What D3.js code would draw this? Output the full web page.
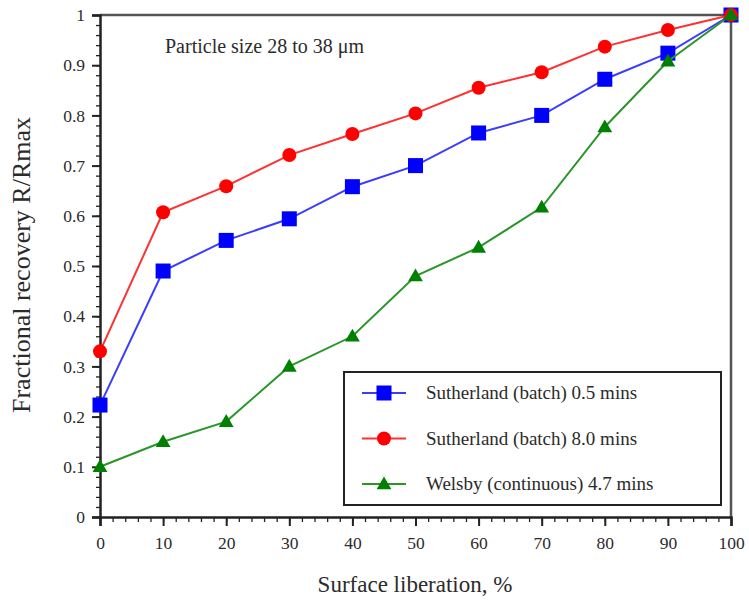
<!DOCTYPE html>
<html>
<head>
<meta charset="utf-8">
<script src="https://cdn.jsdelivr.net/npm/d3@7"></script>
<style>
  body { margin: 0; background: #fff; }
  svg { display: block; font-family: "Liberation Serif", "Times New Roman", serif; }
</style>
</head>
<body>
<svg></svg>
<script>
// Data

let liberation = [0, 10, 20, 30, 40, 50, 60, 70, 80, 90, 100]
let batch05 = [0.223, 0.49, 0.551, 0.594, 0.658, 0.70, 0.765, 0.80, 0.872, 0.924, 1.0]
let batch80 = [0.33, 0.607, 0.659, 0.721, 0.763, 0.804, 0.855, 0.886, 0.937, 0.97, 1.0]
let welsby = [0.10, 0.15, 0.19, 0.30, 0.36, 0.48, 0.537, 0.617, 0.777, 0.908, 1.0]

let seriesNames = ['Sutherland (batch) 0.5 mins', 'Sutherland (batch) 8.0 mins', 'Welsby (continuous) 4.7 mins']
let xTicks = [0, 10, 20, 30, 40, 50, 60, 70, 80, 90, 100]
let yTicks = [0, 0.1, 0.2, 0.3, 0.4, 0.5, 0.6, 0.7, 0.8, 0.9, 1]

let series = [
    { name: seriesNames[0], values: batch05, color: '#0000ff', line: '#3c3cff', shape: 'square' },
    { name: seriesNames[1], values: batch80, color: '#ff0000', line: '#ff3030', shape: 'circle' },
    { name: seriesNames[2], values: welsby, color: '#008000', line: '#2a962a', shape: 'triangle' }
]

let width = 749
let height = 603
let textColor = '#2b2b2b'

let svg = d3.select('svg')
    .attr('width', width)
    .attr('height', height)

// Scales

let xScale = d3.scaleLinear().domain([0, 100]).range([100, 731])
let yScale = d3.scaleLinear().domain([0, 1]).range([517, 15])

// Frame (top and right)

svg.append('line')
    .attr('x1', xScale(0)).attr('x2', xScale(100))
    .attr('y1', yScale(1)).attr('y2', yScale(1))
    .attr('stroke', '#555').attr('stroke-width', 2.5)
svg.append('line')
    .attr('x1', xScale(100)).attr('x2', xScale(100))
    .attr('y1', yScale(1)).attr('y2', yScale(0))
    .attr('stroke', '#555').attr('stroke-width', 2.5)

// Axes

let drawAxes = () => {
    let xMinor = d3.range(0, 101, 2)
    let yMinor = d3.range(0, 1.0001, 0.02)

    svg.append('g')
        .attr('transform', 'translate(0,' + yScale(0) + ')')
        .call(d3.axisBottom(xScale).tickValues(xMinor).tickSize(5).tickFormat(''))
        .call(g => g.select('.domain').remove())
        .selectAll('line').attr('stroke', '#222').attr('stroke-width', 1.3)

    svg.append('g')
        .attr('transform', 'translate(0,' + yScale(0) + ')')
        .call(d3.axisBottom(xScale).tickValues(xTicks).tickSize(9).tickPadding(11).tickFormat(d3.format('d')))
        .call(g => g.select('.domain').attr('stroke', '#222').attr('stroke-width', 2.5))
        .call(g => g.selectAll('line').attr('stroke', '#222').attr('stroke-width', 2))
        .call(g => g.selectAll('text').attr('fill', textColor).attr('font-size', 17.5).attr('font-family', 'Liberation Serif'))

    svg.append('g')
        .attr('transform', 'translate(' + xScale(0) + ',0)')
        .call(d3.axisLeft(yScale).tickValues(yMinor).tickSize(4).tickFormat(''))
        .call(g => g.select('.domain').remove())
        .selectAll('line').attr('stroke', '#222').attr('stroke-width', 1.3)

    svg.append('g')
        .attr('transform', 'translate(' + xScale(0) + ',0)')
        .call(d3.axisLeft(yScale).tickValues(yTicks).tickSize(8).tickPadding(7).tickFormat(d => d3.format('')(+d.toFixed(1))))
        .call(g => g.select('.domain').attr('stroke', '#222').attr('stroke-width', 2.5))
        .call(g => g.selectAll('line').attr('stroke', '#222').attr('stroke-width', 2))
        .call(g => g.selectAll('text').attr('fill', textColor).attr('font-size', 17.5).attr('font-family', 'Liberation Serif'))
}

drawAxes()

// Titles

svg.append('text')
    .attr('x', 415).attr('y', 592)
    .attr('text-anchor', 'middle')
    .attr('font-size', 23)
    .attr('fill', textColor)
    .text('Surface liberation, %')

svg.append('text')
    .attr('transform', 'translate(30,265) rotate(-90)')
    .attr('text-anchor', 'middle')
    .attr('font-size', 26)
    .attr('fill', textColor)
    .text('Fractional recovery R/Rmax')

svg.append('text')
    .attr('x', 165).attr('y', 53)
    .attr('font-size', 20)
    .attr('fill', textColor)
    .text('Particle size 28 to 38 μm')

// Markers

let drawMarker = (g, shape, color, cx, cy) => {
    if (shape === 'square') {
        g.append('rect')
            .attr('x', cx - 7.5).attr('y', cy - 7.5)
            .attr('width', 15).attr('height', 15)
            .attr('fill', color)
    } else if (shape === 'circle') {
        g.append('circle')
            .attr('cx', cx).attr('cy', cy).attr('r', 7)
            .attr('fill', color)
    } else {
        g.append('path')
            .attr('d', d3.symbol().type(d3.symbolTriangle).size(95)())
            .attr('transform', 'translate(' + cx + ',' + (cy + 1) + ')')
            .attr('fill', color)
    }
}

// Lines and points

let line = d3.line()
    .x((d, i) => xScale(liberation[i]))
    .y(d => yScale(d))

series.forEach(s => {
    let g = svg.append('g')
    g.append('path')
        .attr('d', line(s.values))
        .attr('fill', 'none')
        .attr('stroke', s.line)
        .attr('stroke-width', 2)
    s.values.forEach((v, i) => {
        drawMarker(g, s.shape, s.color, xScale(liberation[i]), yScale(v))
    })
})

// Legend

let legend = svg.append('g')
legend.append('rect')
    .attr('x', 344).attr('y', 372)
    .attr('width', 377).attr('height', 133)
    .attr('fill', '#fff')
    .attr('stroke', '#222')
    .attr('stroke-width', 2)

series.forEach((s, i) => {
    let y = 393 + i * 45.5
    legend.append('line')
        .attr('x1', 362).attr('x2', 406)
        .attr('y1', y).attr('y2', y)
        .attr('stroke', s.line).attr('stroke-width', 2)
    drawMarker(legend, s.shape, s.color, 384, y)
    legend.append('text')
        .attr('x', 426).attr('y', y + 6)
        .attr('font-size', 19)
        .attr('fill', textColor)
        .text(s.name)
})
</script>
</body>
</html>
